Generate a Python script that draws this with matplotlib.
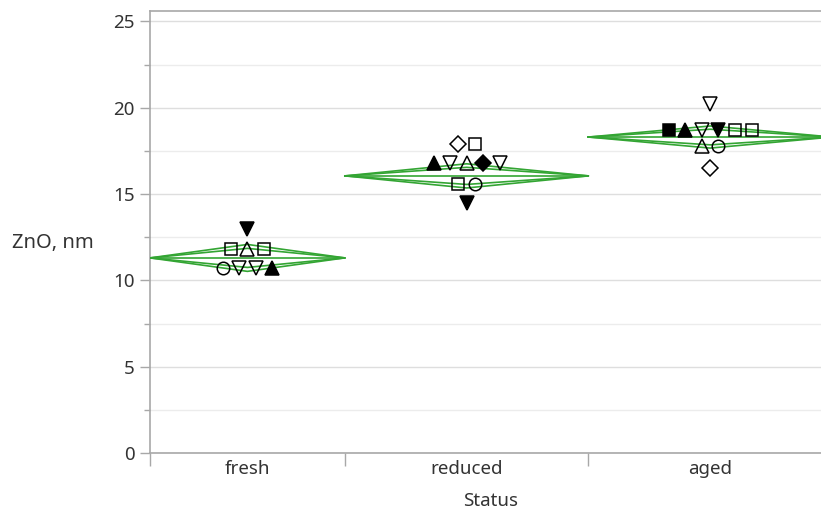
import matplotlib.pyplot as plt
import numpy as np

plt.rcParams['font.family'] = ['Noto Sans', 'DejaVu Sans']

# groups, in axis order
groups = ['fresh', 'reduced', 'aged']

# ZnO crystallite size per sample, rows of equal value listed left to right
fresh_vals = [13.0, 11.8, 11.8, 11.8, 10.7, 10.7, 10.7, 10.7]
fresh_mk = ['v', 's', '^', 's', 'o', 'v', 'v', '^']
fresh_fill = [1, 0, 0, 0, 0, 0, 0, 1]

reduced_vals = [17.9, 17.9, 16.8, 16.8, 16.8, 16.8, 16.8, 15.6, 15.6, 14.5]
reduced_mk = ['D', 's', '^', 'v', '^', 'D', 'v', 's', 'o', 'v']
reduced_fill = [0, 0, 1, 0, 0, 1, 0, 0, 0, 1]

aged_vals = [20.2, 18.7, 18.7, 18.7, 18.7, 18.7, 18.7, 17.8, 17.8, 16.5]
aged_mk = ['v', 's', '^', 'v', 'v', 's', 's', '^', 'o', 'D']
aged_fill = [0, 1, 1, 0, 1, 0, 0, 0, 0, 0]

# group means and 95% CI half widths (means diamonds)
means = [11.3, 16.05, 18.3]
ci_half = [0.78, 0.7, 0.64]

vals = [fresh_vals, reduced_vals, aged_vals]
mks = [fresh_mk, reduced_mk, aged_mk]
fills = [fresh_fill, reduced_fill, aged_fill]

green = '#33a533'
grey = '#a8a8a8'
txt = '#333333'
fs = 13.5

fig = plt.figure(figsize=(8.21, 5.15), dpi=100)
ax = fig.add_axes((150 / 821, 62 / 515, 682 / 821, 442 / 515))

# group widths proportional to sample counts
counts = [len(v) for v in vals]
edges = np.concatenate([[0], np.cumsum(counts)])
centers = (edges[:-1] + edges[1:]) / 2

spacing = 0.68
sizes = {'^': 9.5, 'v': 9.5, 's': 8, 'D': 8, 'o': 9}
for i in range(len(groups)):
    v = np.array(vals[i])
    c = centers[i]
    # spread tied values side by side
    xs = np.zeros(len(v))
    for val in np.unique(v):
        idx = np.where(v == val)[0]
        n = len(idx)
        xs[idx] = c + (np.arange(n) - (n - 1) / 2) * spacing
    for x, y, m, f in zip(xs, v, mks[i], fills[i]):
        ax.plot(x, y, marker=m, ms=sizes[m], mec='black', mew=1.1,
                mfc='black' if f else 'none', zorder=4)

    # means diamond with overlap marks
    left, right = edges[i], edges[i + 1]
    m = means[i]
    h = ci_half[i]
    for hh in (h, h / np.sqrt(2)):
        ax.plot([left, c, right, c, left], [m, m + hh, m, m - hh, m],
                color=green, lw=1.2, zorder=3)
    ax.plot([left, right], [m, m], color=green, lw=1.2, zorder=3)

ax.set_xlim(0, edges[-1])
ax.set_ylim(0, 25.6)

ax.set_yticks(np.arange(0, 26, 5))
ax.set_yticks(np.arange(2.5, 25, 5), minor=True)
ax.grid(axis='y', which='major', color='#dedede', lw=1.0)
ax.grid(axis='y', which='minor', color='#ececec', lw=1.0)
ax.set_axisbelow(True)

ax.set_xticks(edges[:-1])
ax.set_xticklabels([])
ax.set_xticks(centers, minor=True)
ax.set_xticklabels(groups, minor=True)
ax.tick_params(axis='x', which='major', length=9, color=grey, width=1)
ax.tick_params(axis='x', which='minor', length=0, pad=5, labelsize=fs,
               labelcolor=txt)
ax.tick_params(axis='y', which='major', length=7, color=grey, width=1,
               labelsize=fs, labelcolor=txt, pad=4)
ax.tick_params(axis='y', which='minor', length=4, color=grey, width=1)

for s in ('left', 'bottom', 'top'):
    ax.spines[s].set_color(grey)
    ax.spines[s].set_linewidth(1.2)
ax.spines['right'].set_visible(False)

ax.set_xlabel('Status', fontsize=fs, color=txt, labelpad=10)
fig.text(12 / 821, 1 - 243 / 515, 'ZnO, nm', fontsize=14.5, color=txt,
         ha='left', va='center')

fig.savefig('out.png', dpi=100)
